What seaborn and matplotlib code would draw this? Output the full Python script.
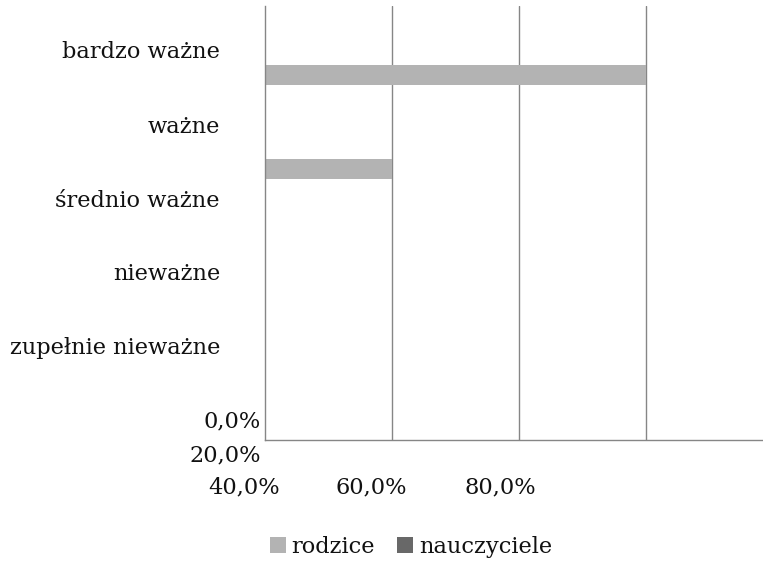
import matplotlib
matplotlib.use('Agg')
import matplotlib.pyplot as plt
import pandas as pd
import seaborn as sns

# ── Data ──────────────────────────────────────────────────────────────
categories = ['bardzo ważne', 'ważne', 'średnio ważne', 'nieważne', 'zupełnie nieważne']
rodzice = [0.60, 0.20, 0.0, 0.0, 0.0]
nauczyciele = [0.0, 0.0, 0.0, 0.0, 0.0]
tick_labels = ['0,0%', '20,0%', '40,0%', '60,0%', '80,0%']

W, H = 763, 563
FONT = 'DejaVu Serif'
FS = 16.2
GRID = '#868686'
TXT = '#111111'

df = pd.DataFrame({
    'kategoria': categories * 2,
    'grupa': ['rodzice'] * len(categories) + ['nauczyciele'] * len(categories),
    'udzial': rodzice + nauczyciele,
})
palette = {'rodzice': '#b3b3b3', 'nauczyciele': '#686868'}

def px(x, y):
    return x / W, 1 - y / H

sns.set_style('white')
plt.rcParams['font.family'] = [FONT, 'DejaVu Sans']
plt.rcParams['text.color'] = TXT

fig = plt.figure(figsize=(W / 100, H / 100), dpi=100)
ax = fig.add_axes([264.5 / W, 1 - 440 / H, (W - 264.5) / W, 434 / H])

sns.barplot(data=df, x='udzial', y='kategoria', hue='grupa', order=categories,
            hue_order=['nauczyciele', 'rodzice'], palette=palette, width=0.425,
            linewidth=0, legend=False, ax=ax)

ax.set_xlim(0, 0.784)
ax.set_ylim(3.989, -0.628)
ax.set_xticks([0.2, 0.4, 0.6])
ax.set_xticklabels([])
ax.set_yticks([])
ax.tick_params(length=0)
ax.xaxis.grid(True, color=GRID, lw=1)
ax.set_axisbelow(True)
ax.set_xlabel('')
ax.set_ylabel('')
for side in ['top', 'right']:
    ax.spines[side].set_visible(False)
for side in ['left', 'bottom']:
    ax.spines[side].set_color(GRID)
    ax.spines[side].set_linewidth(1)

# category labels (placed as in the source chart, which is slightly off the bars)
label_base = [58, 133, 207, 280, 354]
for lab, yb in zip(categories, label_base):
    fig.text(*px(220, yb), lab, ha='right', va='baseline', fontsize=FS)

# x tick labels, jumbled in the source
tick_pos = [(261, 427, 'right'), (261, 461, 'right'), (244, 493, 'center'),
            (371, 493, 'center'), (500, 493, 'center')]
for lab, (x, y, ha) in zip(tick_labels, tick_pos):
    fig.text(*px(x, y), lab, ha=ha, va='baseline', fontsize=FS)

handles = [ax.containers[1], ax.containers[0]]
fig.legend(handles, ['rodzice', 'nauczyciele'], loc='center',
           bbox_to_anchor=px(411, 547), ncol=2, frameon=False, fontsize=FS,
           handlelength=0.7, handleheight=0.7, handletextpad=0.25,
           columnspacing=1.0)

fig.savefig('out.png', dpi=100)
plt.close(fig)
